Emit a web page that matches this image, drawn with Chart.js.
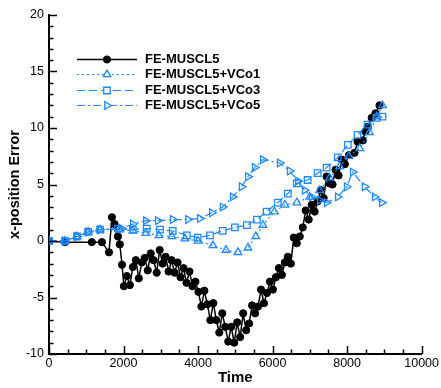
<!DOCTYPE html>
<html>
<head>
<meta charset="utf-8">
<script src="https://cdn.jsdelivr.net/npm/chart.js@4/dist/chart.umd.min.js"></script>
<style>
html,body{margin:0;padding:0;background:#fff;}
#wrap{width:441px;height:388px;}
</style>
</head>
<body>
<div id="wrap"><canvas id="c" width="441" height="388"></canvas></div>
<script>
// ---- data ----
const seriesNames = ['FE-MUSCL5', 'FE-MUSCL5+VCo1', 'FE-MUSCL5+VCo3', 'FE-MUSCL5+VCo5'];

const baseTime = [0,430,1150,1420,1610,1690,1760,1850,1900,1960,2010,2090,2170,2250,2330,2410,2490,2570,2650,2730,2810,2890,2970,3050,3130,3210,3290,3370,3450,3530,3610,3690,3770,3850,3930,4010,4090,4170,4250,4330,4410,4490,4570,4650,4730,4810,4890,4970,5050,5130,5210,5290,5370,5450,5530,5610,5690,5770,5850,5930,6010,6090,6170,6250,6330,6410,6490,6570,6650,6730,6810,6890,6970,7050,7130,7210,7290,7370,7450,7530,7610,7690,7770,7860,7940,8050,8200,8280,8420,8490,8550,8660,8760,8870];
const baseErr  = [0.0,-0.1,-0.1,-0.1,-1.0,2.1,1.5,0.4,-0.3,-2.1,-4.0,-3.1,-3.9,-2.3,-1.7,-3.3,-1.9,-1.5,-2.6,-1.1,-1.7,-2.8,-0.8,-2.0,-1.4,-2.7,-1.7,-2.8,-1.9,-3.2,-2.4,-3.7,-2.7,-4.0,-3.6,-4.5,-5.8,-4.4,-5.6,-7.0,-5.5,-7.0,-8.1,-6.4,-7.6,-8.9,-7.6,-9.0,-7.2,-8.5,-6.4,-7.9,-7.3,-5.7,-6.4,-5.8,-4.3,-5.5,-4.6,-3.6,-4.3,-3.2,-2.4,-3.0,-1.9,-1.4,-2.0,0.3,-0.2,0.4,1.2,2.7,1.9,3.2,2.6,3.5,4.5,3.8,5.7,5.1,5.0,6.3,5.8,7.2,6.8,7.6,7.8,8.8,8.9,9.7,10.1,10.9,11.3,12.0];

const vco1Time = [0,430,750,1050,1370,1900,2250,2600,2950,3300,3650,4000,4400,4750,5070,5340,5550,5740,6050,6330,6650,7000,7270,7530,7800,8050,8340,8600,8800,8950];
const vco1Err  = [0.0,0.0,0.4,0.8,1.0,1.0,0.9,0.7,0.5,0.4,0.2,0.0,-0.4,-0.8,-1.0,-0.6,0.4,1.4,2.6,3.2,3.4,3.9,4.5,5.6,6.6,7.5,8.2,9.6,11.0,12.0];

const vco3Time = [0,430,750,1050,1370,1850,2250,2620,2980,3320,3700,3990,4320,4660,4990,5310,5580,5840,6140,6410,6650,6940,7210,7450,7750,8020,8280,8550,8790,8950];
const vco3Err  = [0.0,0.0,0.4,0.8,1.0,1.1,1.0,1.1,1.0,0.9,0.5,0.3,0.5,0.9,1.2,1.4,1.9,2.6,3.4,4.2,5.1,5.4,6.0,6.5,7.4,8.5,9.4,10.3,10.9,11.0];

const vco5Time = [0,430,750,1050,1370,1950,2250,2600,2920,3320,3730,4050,4370,4660,4930,5170,5340,5520,5740,6190,6460,6680,6860,7050,7270,7450,7750,7990,8150,8470,8740,8930];
const vco5Err  = [0.0,0.0,0.4,0.8,1.0,1.1,1.5,1.8,1.8,1.9,1.9,2.0,2.5,3.0,3.9,4.8,5.7,6.5,7.2,6.9,6.2,5.3,4.5,3.9,3.6,3.4,3.9,4.8,6.1,4.8,3.9,3.4];

const xTicks = [0,2000,4000,6000,8000,10000];
const yTicks = [-10,-5,0,5,10,15,20];
// ---------------------------------------

const FONT = '"Liberation Sans", Arial, Helvetica, sans-serif';
const BLUE = '#1e88ff';
const pts = (t, v) => t.map((x, i) => ({x: x, y: v[i]}));

const datasets = [
  {label: seriesNames[0], data: pts(baseTime, baseErr), borderColor: '#000', backgroundColor: '#000',
   borderWidth: 1.5, pointStyle: 'circle', pointRadius: 3.6, pointBackgroundColor: '#000', pointBorderColor: '#000', pointBorderWidth: 1, order: 10},
  {label: seriesNames[1], data: pts(vco1Time, vco1Err), borderColor: BLUE, borderDash: [2, 3], borderWidth: 1.2,
   pointStyle: 'triangle', pointRadius: 4.4, pointBorderColor: BLUE, pointBackgroundColor: 'rgba(255,255,255,0)', pointBorderWidth: 1.3, order: 3},
  {label: seriesNames[2], data: pts(vco3Time, vco3Err), borderColor: BLUE, borderDash: [8, 4], borderWidth: 1.2,
   pointStyle: 'rect', pointRadius: 4.6, pointBorderColor: BLUE, pointBackgroundColor: 'rgba(255,255,255,0)', pointBorderWidth: 1.3, order: 2},
  {label: seriesNames[3], data: pts(vco5Time, vco5Err), borderColor: BLUE, borderDash: [8, 3, 2, 3], borderWidth: 1.2,
   pointStyle: 'triangle', pointRotation: 90, pointRadius: 4.4, pointBorderColor: BLUE, pointBackgroundColor: 'rgba(255,255,255,0)', pointBorderWidth: 1.3, order: 1}
];
const legendColors = ['#000', BLUE, BLUE, BLUE];

const inwardTicks = {
  id: 'inwardTicks',
  afterDatasetsDraw(chart) {
    const ctx = chart.ctx, xs = chart.scales.x, ys = chart.scales.y;
    const ca = chart.chartArea;
    ctx.save();
    ctx.strokeStyle = '#000';
    ctx.lineWidth = 1.5;
    ctx.setLineDash([]);
    for (let v = xs.min; v <= xs.max + 1e-6; v += 500) {
      const px = Math.round(xs.getPixelForValue(v)) + 0.5;
      const len = xTicks.includes(v) ? 8 : 4.5;
      ctx.beginPath(); ctx.moveTo(px, ca.bottom); ctx.lineTo(px, ca.bottom - len); ctx.stroke();
    }
    for (let v = ys.min; v <= ys.max + 1e-6; v += 1) {
      const py = Math.round(ys.getPixelForValue(v)) + 0.5;
      const len = yTicks.includes(v) ? 8 : 4.5;
      ctx.beginPath(); ctx.moveTo(ca.left, py); ctx.lineTo(ca.left + len, py); ctx.stroke();
    }
    ctx.restore();
  },
  afterDraw(chart) {
    const ctx = chart.ctx;
    const x0 = 77, x1 = 137, xm = 107, tx = 145, y0 = 58.5, dy = 15.5;
    chart.data.datasets.forEach((ds, i) => {
      const y = Math.round(y0 + i * dy) + 0.5;
      const col = legendColors[i];
      ctx.save();
      ctx.strokeStyle = col;
      ctx.lineWidth = i === 0 ? 1.5 : 1.2;
      ctx.setLineDash(ds.borderDash || []);
      ctx.beginPath(); ctx.moveTo(x0, y); ctx.lineTo(x1, y); ctx.stroke();
      ctx.setLineDash([]);
      ctx.fillStyle = i === 0 ? '#000' : 'rgba(255,255,255,1)';
      ctx.strokeStyle = col;
      ctx.lineWidth = ds.pointBorderWidth;
      Chart.helpers.drawPoint(ctx, {pointStyle: ds.pointStyle, rotation: ds.pointRotation || 0, radius: ds.pointRadius, borderWidth: ds.pointBorderWidth}, xm, y);
      ctx.fillStyle = '#000';
      ctx.font = 'bold 13px ' + FONT;
      ctx.textBaseline = 'middle';
      ctx.textAlign = 'left';
      ctx.fillText(ds.label, tx, y);
      ctx.restore();
    });
  }
};

new Chart(document.getElementById('c'), {
  type: 'line',
  data: {datasets: datasets},
  options: {
    responsive: false,
    animation: false,
    layout: {padding: {top: 15, right: 19, left: 0, bottom: 0}},
    plugins: {legend: {display: false}, tooltip: {enabled: false}},
    elements: {line: {tension: 0}},
    scales: {
      x: {
        type: 'linear', min: 0, max: 10000,
        afterBuildTicks: (s) => { s.ticks = xTicks.map(v => ({value: v})); },
        afterFit: (s) => { s.height = 34; },
        ticks: {color: '#000', font: {family: FONT, size: 12.5}, padding: 2, maxRotation: 0, autoSkip: false, callback: (v) => String(v)},
        grid: {drawOnChartArea: false, drawTicks: false},
        border: {color: '#000', width: 2},
        title: {display: true, text: 'Time', color: '#000', font: {family: FONT, size: 15, weight: 'bold'}, padding: {top: 0, bottom: 1}}
      },
      y: {
        type: 'linear', min: -10, max: 20,
        afterBuildTicks: (s) => { s.ticks = yTicks.map(v => ({value: v})); },
        afterFit: (s) => { s.width = 49; },
        ticks: {color: '#000', font: {family: FONT, size: 12.5}, padding: 5, autoSkip: false, callback: (v) => String(v)},
        grid: {drawOnChartArea: false, drawTicks: false},
        border: {color: '#000', width: 2},
        title: {display: true, text: 'x-position Error', color: '#000', font: {family: FONT, size: 14.5, weight: 'bold'}, padding: {top: 6, bottom: 0}}
      }
    }
  },
  plugins: [inwardTicks]
});
</script>
</body>
</html>
